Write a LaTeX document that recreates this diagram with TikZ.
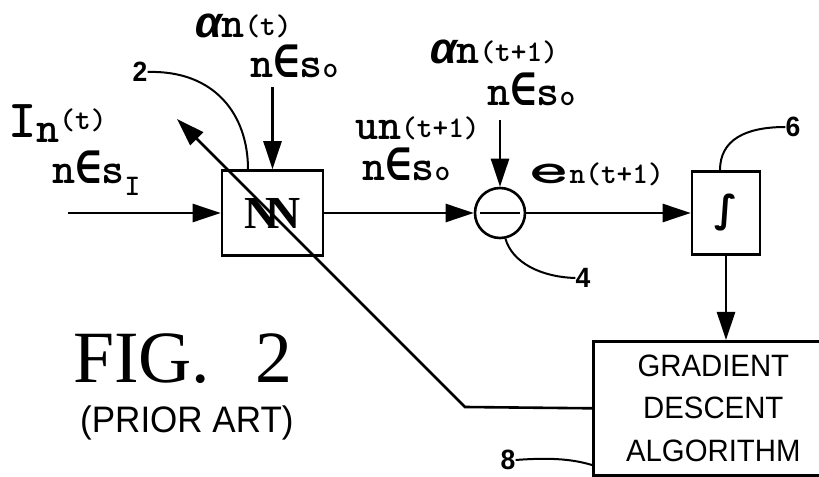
\documentclass[tikz,border=0pt]{standalone}
\usepackage{fontspec}
\usepackage{graphicx}
\usetikzlibrary{arrows.meta}
\newfontfamily\greekfont{Liberation Mono}
\newfontfamily\symfont{DejaVu Sans Mono}
\newfontfamily\intfont{DejaVu Sans}
\newfontfamily\sansfont{Liberation Sans}[FakeStretch=0.95]
\newfontfamily\figfont{Liberation Serif}
\newcommand\bigsz{\fontsize{44}{44}\selectfont}
\newcommand\smsz{\fontsize{30}{30}\selectfont}
\newcommand\elt{{\symfont\bfseries ∈}}
\newcommand\alp{{\greekfont\bfseries\itshape α}}
\begin{document}
\begin{tikzpicture}[x=1bp,y=-1bp,
  line/.style={line width=2.6bp},
  arr/.style={line width=2.6bp,-{Triangle[length=28bp,width=18bp]}},
  lead/.style={line width=2bp},
  lbl/.style={font=\ttfamily\bfseries,inner sep=0,anchor=base west},
  num/.style={font=\sansfont\bfseries\fontsize{28}{28}\selectfont,inner sep=0},
  box/.style={draw,line width=2.6bp,inner sep=0}]
\useasboundingbox (0,0) rectangle (819,477);
\clip (0,0) rectangle (819,477);
% blocks
\node[box,minimum width=101bp,minimum height=85bp] (nn) at (272.5,213)
  {\figfont\bfseries\fontsize{46}{46}\selectfont N\kern-10bp N};
\node[circle,draw,line width=2.6bp,minimum size=50bp,inner sep=0] (sum) at (500,213) {};
\draw[line] ([xshift=-20bp]sum.center) -- ([xshift=20bp]sum.center);
\node[box,minimum width=68bp,minimum height=83bp] (sig) at (726,213)
  {\intfont\bfseries\fontsize{38}{38}\selectfont ∫};
\node[box,minimum width=240bp,minimum height=134bp,anchor=north west,align=center,
  font=\sansfont\fontsize{31}{43}\selectfont] (gd) at (592,340) {GRADIENT\\DESCENT\\ALGORITHM};
% connectors
\coordinate (inS) at (68,213);
\draw[arr] (inS) -- (nn.west);
\coordinate (aTop) at (272.5,87);
\draw[arr] (aTop) -- (nn.north);
\draw[arr] (nn.east) -- (sum.west);
\coordinate (bTop) at (500,120);
\draw[arr] (bTop) -- (sum.north);
\draw[arr] (sum.east) -- (sig.west);
\draw[arr] (sig.south) -- (sig.south |- gd.north);
\coordinate (fbBend) at (465,407);
\coordinate (fbTip) at (177,119);
\draw[arr] (gd.west) -- (fbBend) -- (fbTip);
% reference numerals
\node[num] (n2) at (140,72) {2};
\draw[lead] (n2.east) .. controls (215,70) and (248,115) .. ([xshift=-24.5bp]nn.north);
\node[num] (n4) at (583,278) {4};
\draw[lead] (sum.-78) .. controls (512,262) and (540,277) .. (n4.west);
\node[num] (n6) at (793,127) {6};
\draw[lead] ([xshift=-6bp]sig.north) .. controls (720,140) and (745,127) .. (n6.west);
\node[num] (n8) at (508,460) {8};
\coordinate (g8) at (592,465);
\draw[lead] (n8.east) .. controls (555,457) and (575,460) .. (g8);
% signal labels
\node[lbl] (lI) at (8,138) {\fontsize{54}{54}\selectfont I\raisebox{-5bp}{\bigsz n}\raisebox{8bp}{\smsz(t)}};
\node[lbl] (lIs) at (52,184) {\bigsz n\elt s\raisebox{-12bp}{\smsz I}};
\node[lbl] (la) at (195,38) {\bigsz\alp n\raisebox{2bp}{\smsz(t)}};
\node[lbl] (las) at (250,78) {\bigsz n\elt s\smsz o};
\node[lbl] (lu) at (355,140) {\bigsz un\raisebox{2bp}{\smsz(t+1)}};
\node[lbl] (lus) at (362,181) {\bigsz n\elt s\smsz o};
\node[lbl] (lb) at (430,64) {\bigsz\alp n\raisebox{2bp}{\smsz(t+1)}};
\node[lbl] (lbs) at (487,106) {\bigsz n\elt s\smsz o};
\node[lbl] (le) at (528,184) {\scalebox{1.8}[1]{\bigsz e}\smsz n(t+1)};
% caption
\node[anchor=base west,inner sep=0,font=\figfont\fontsize{74}{74}\selectfont] (fig) at (73,382) {FIG.\hspace{45bp}2};
\node[anchor=base west,inner sep=0,font=\sansfont\fontsize{37}{37}\selectfont] (prior) at (80,432) {(PRIOR ART)};
\end{tikzpicture}
\end{document}
